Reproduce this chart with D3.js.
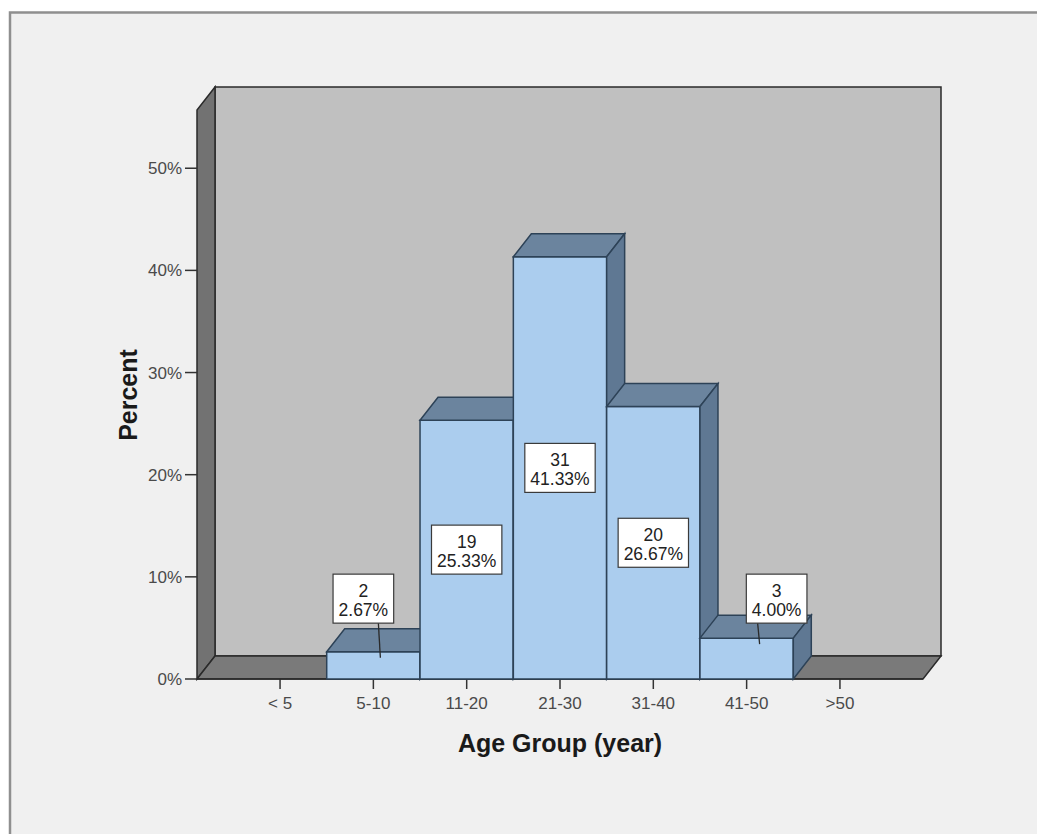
<!DOCTYPE html>
<html>
<head>
<meta charset="utf-8">
<script src="https://cdn.jsdelivr.net/npm/d3@7"></script>
<style>
  html, body { margin: 0; padding: 0; background: #ffffff; }
  svg { display: block; }
  text { font-family: "Liberation Sans", Arial, sans-serif; }
</style>
</head>
<body>
<svg id="chart" width="1037" height="834"></svg>
<script>
// ---- data ----
const categories = ["< 5", "5-10", "11-20", "21-30", "31-40", "41-50", ">50"];
const counts     = [null, 2, 19, 31, 20, 3, null];
const percents   = [null, 2.67, 25.33, 41.33, 26.67, 4.00, null];
const yTicks     = [0, 10, 20, 30, 40, 50];
const yTickLabels = ["0%", "10%", "20%", "30%", "40%", "50%"];
const xTitle = "Age Group (year)";
const yTitle = "Percent";

(function () {
// ---- layout ----
const W = 1037, H = 834;
const pLeft = 197, pRight = 923, pBottom = 679, pTop = 110;
const yMax = 55.7;
const DX = 18, DY = -23;   // 3D depth offset

const svg = d3.select("#chart");

// frame
svg.append("rect").attr("x", 10).attr("y", 13).attr("width", W).attr("height", H).attr("fill", "#f0f0f0");
svg.append("path").attr("d", `M10,${H} V12.5 H${W}`).attr("fill", "none")
   .attr("stroke", "#8f8f8f").attr("stroke-width", 2.5);

const x = d3.scaleBand().domain(categories).range([pLeft, pRight]).paddingInner(0).paddingOuter(0.39);
const y = d3.scaleLinear().domain([0, yMax]).range([pBottom, pTop]);

const poly = pts => "M" + pts.map(p => p.join(",")).join("L") + "Z";
const wallStroke = "#2a2a2a";

// back wall
svg.append("path").attr("d", poly([[pLeft+DX, y(yMax)+DY],[pRight+DX, y(yMax)+DY],[pRight+DX, y(0)+DY],[pLeft+DX, y(0)+DY]]))
   .attr("fill", "#c0c0c0").attr("stroke", wallStroke).attr("stroke-width", 1.5);
// left wall
svg.append("path").attr("d", poly([[pLeft, y(0)],[pLeft, y(yMax)],[pLeft+DX, y(yMax)+DY],[pLeft+DX, y(0)+DY]]))
   .attr("fill", "#727272").attr("stroke", wallStroke).attr("stroke-width", 1.5);
// floor
svg.append("path").attr("d", poly([[pLeft, y(0)],[pRight, y(0)],[pRight+DX, y(0)+DY],[pLeft+DX, y(0)+DY]]))
   .attr("fill", "#7a7a7a").attr("stroke", wallStroke).attr("stroke-width", 1.5);

// y axis ticks
const yAxisG = svg.append("g");
yTicks.forEach((t, i) => {
  yAxisG.append("line").attr("x1", pLeft - 12).attr("x2", pLeft).attr("y1", y(t)).attr("y2", y(t))
        .attr("stroke", "#333").attr("stroke-width", 1.5);
  yAxisG.append("text").attr("x", pLeft - 15).attr("y", y(t) + 6).attr("text-anchor", "end")
        .attr("font-size", 17).attr("fill", "#4a4a4a").text(yTickLabels[i]);
});
// x axis ticks
categories.forEach(c => {
  const cx = x(c) + x.bandwidth() / 2;
  svg.append("line").attr("x1", cx).attr("x2", cx).attr("y1", pBottom).attr("y2", pBottom + 10)
     .attr("stroke", "#333").attr("stroke-width", 1.5);
  svg.append("text").attr("x", cx).attr("y", pBottom + 30).attr("text-anchor", "middle")
     .attr("font-size", 17).attr("fill", "#4a4a4a").text(c);
});
// baseline front edge
svg.append("line").attr("x1", pLeft).attr("x2", pRight).attr("y1", pBottom).attr("y2", pBottom)
   .attr("stroke", wallStroke).attr("stroke-width", 1.5);

// bars
const barStroke = "#2d4257";
const bars = categories.map((c, i) => ({ c, i, count: counts[i], pct: percents[i] })).filter(d => d.pct != null);
const barG = svg.append("g");
bars.forEach(d => {
  const x0 = x(d.c), x1 = x0 + x.bandwidth(), y0 = y(0), y1 = y(d.pct);
  const g = barG.append("g");
  g.append("path").attr("d", poly([[x0, y0],[x0, y1],[x1, y1],[x1, y0]]))
   .attr("fill", "#abcdee").attr("stroke", barStroke).attr("stroke-width", 1.5);
  g.append("path").attr("d", poly([[x0, y1],[x0+DX, y1+DY],[x1+DX, y1+DY],[x1, y1]]))
   .attr("fill", "#6b849e").attr("stroke", barStroke).attr("stroke-width", 1.5);
  g.append("path").attr("d", poly([[x1, y0],[x1, y1],[x1+DX, y1+DY],[x1+DX, y0+DY]]))
   .attr("fill", "#5f7893").attr("stroke", barStroke).attr("stroke-width", 1.5);
});

// labels
const boxH = 49, fs = 17.5;
const outside = bars.filter(d => (y(0) - y(d.pct)) < boxH + 10);
const outsideLevel = d3.min(outside, d => y(d.pct)) - 15; // box bottom
const labelG = svg.append("g");
bars.forEach(d => {
  const cx = x(d.c) + x.bandwidth() / 2;
  const isOut = outside.includes(d);
  let bx, btop;
  if (isOut) {
    const prev = percents[d.i - 1] || 0, next = percents[d.i + 1] || 0;
    const dir = next > prev ? -1 : 1;
    const lx = cx + (dir < 0 ? 7 : 13);
    bx = lx + dir * 17;
    btop = outsideLevel - boxH;
    labelG.append("line").attr("x1", lx - 2).attr("x2", lx).attr("y1", outsideLevel).attr("y2", y(d.pct) + 6)
          .attr("stroke", "#2a2a2a").attr("stroke-width", 1.3);
  } else {
    bx = cx;
    btop = (y(0) + y(d.pct)) / 2 - boxH / 2;
  }
  const g = labelG.append("g");
  const rect = g.append("rect");
  const t1 = g.append("text").attr("x", bx).attr("y", btop + 23).attr("text-anchor", "middle")
              .attr("font-size", fs).attr("fill", "#222").text(d.count);
  const t2 = g.append("text").attr("x", bx).attr("y", btop + 42).attr("text-anchor", "middle")
              .attr("font-size", fs).attr("fill", "#222").text(d.pct.toFixed(2) + "%");
  const tw = Math.max(t1.node().getComputedTextLength(), t2.node().getComputedTextLength());
  const bw = tw + 11;
  rect.attr("x", bx - bw / 2).attr("y", btop).attr("width", bw).attr("height", boxH)
      .attr("fill", "#ffffff").attr("stroke", "#3a3a3a").attr("stroke-width", 1.2);
});

// axis titles
svg.append("text").attr("transform", "translate(137,395) rotate(-90)").attr("text-anchor", "middle")
   .attr("font-size", 25).attr("font-weight", "bold").attr("fill", "#1a1a1a").text(yTitle);
svg.append("text").attr("x", 560).attr("y", 752).attr("text-anchor", "middle")
   .attr("font-size", 25).attr("font-weight", "bold").attr("fill", "#1a1a1a").text(xTitle);
})();
</script>
</body>
</html>
